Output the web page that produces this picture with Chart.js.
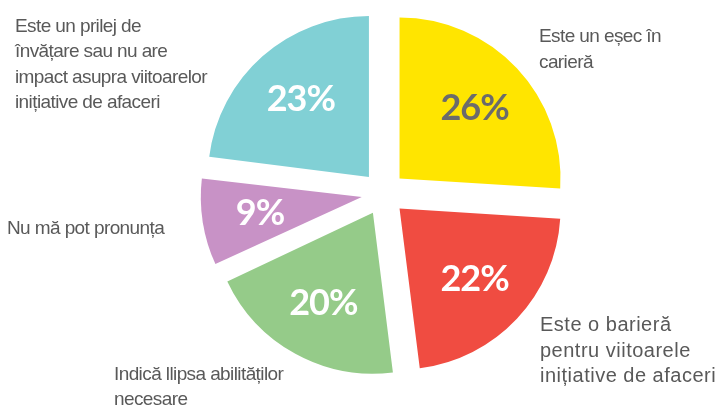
<!DOCTYPE html>
<html>
<head>
<meta charset="utf-8">
<script src="https://cdn.jsdelivr.net/npm/chart.js@4.4.0/dist/chart.umd.min.js"></script>
<style>
  html, body { margin: 0; padding: 0; background: #fff; }
  #wrap { width: 717px; height: 406px; position: relative; }
</style>
</head>
<body>
<div id="wrap"><canvas id="chart"></canvas></div>
<script>
'use strict';

// Answer categories (one array entry per text line) and their shares in percent.
const categories = [
  ['Este un eșec în', 'carieră'],
  ['Este o barieră', 'pentru viitoarele', 'inițiative de afaceri'],
  ['Indică llipsa abilităților', 'necesare'],
  ['Nu mă pot pronunța'],
  ['Este un prilej de', 'învățare sau nu are', 'impact asupra viitoarelor', 'inițiative de afaceri']
];
const shares = [26, 22, 20, 9, 23];
const sliceColors = ['#ffe500', '#f04c41', '#95cb89', '#c892c6', '#81d0d5'];
const valueColors = ['#6b6b6b', '#ffffff', '#ffffff', '#ffffff', '#ffffff'];

const RADIUS = 161;
const EXPLODE = 22;          // px each slice is pushed out from the centre
const VALUE_DIST = 125;      // distance of the % label from the centre
const TEXT_COLOR = '#595959';

// Where each category text block starts (left edge, first baseline).
const labelLayout = [
  {x: 539, y: 42, lh: 26, size: 19, spacing: -0.6},
  {x: 540, y: 331, lh: 25.5, size: 20, spacing: 0.5},
  {x: 114, y: 380, lh: 24.5, size: 19, spacing: -0.6},
  {x: 7, y: 234, lh: 25, size: 19, spacing: -0.6},
  {x: 15, y: 32, lh: 25.4, size: 19, spacing: -0.6}
];

// Chart.js grows the radius of narrow offset slices; undo that so all slices match.
const evenRadius = {
  id: 'evenRadius',
  afterDatasetUpdate(chart, args) {
    const shift = EXPLODE * 4 / 4;
    for (const arc of args.meta.data) {
      const fix = 1 - Math.sin(Math.min(Math.PI, arc.circumference));
      arc.outerRadius = RADIUS - shift * fix;
    }
  }
};

const sliceLabels = {
  id: 'sliceLabels',
  afterDatasetsDraw(chart) {
    const ctx = chart.ctx;
    const arcs = chart.getDatasetMeta(0).data;
    ctx.save();

    // Percentages inside the slices
    ctx.font = 'bold 36px Lato, "Open Sans", sans-serif';
    ctx.letterSpacing = '-1px';
    ctx.textAlign = 'center';
    ctx.textBaseline = 'middle';
    arcs.forEach((arc, i) => {
      const mid = (arc.startAngle + arc.endAngle) / 2;
      ctx.fillStyle = valueColors[i];
      ctx.fillText(shares[i] + '%', arc.x + Math.cos(mid) * VALUE_DIST, arc.y + Math.sin(mid) * VALUE_DIST);
    });

    // Category texts around the pie
    ctx.textAlign = 'left';
    ctx.textBaseline = 'alphabetic';
    ctx.fillStyle = TEXT_COLOR;
    categories.forEach((lines, i) => {
      const pos = labelLayout[i];
      ctx.font = pos.size + 'px "Liberation Sans", Arial, sans-serif';
      ctx.letterSpacing = pos.spacing + 'px';
      lines.forEach((line, j) => ctx.fillText(line, pos.x, pos.y + j * pos.lh));
    });
    ctx.restore();
  }
};

new Chart(document.getElementById('chart'), {
  type: 'pie',
  data: {
    labels: categories.map(l => l.join(' ')),
    datasets: [{
      data: shares,
      backgroundColor: sliceColors,
      borderWidth: 0,
      offset: EXPLODE * 4
    }]
  },
  options: {
    responsive: true,
    maintainAspectRatio: false,
    animation: false,
    radius: RADIUS,
    layout: {padding: {left: 50, right: 0, top: 0, bottom: 19}},
    plugins: {
      legend: {display: false},
      tooltip: {enabled: false}
    }
  },
  plugins: [evenRadius, sliceLabels]
});
</script>
</body>
</html>
